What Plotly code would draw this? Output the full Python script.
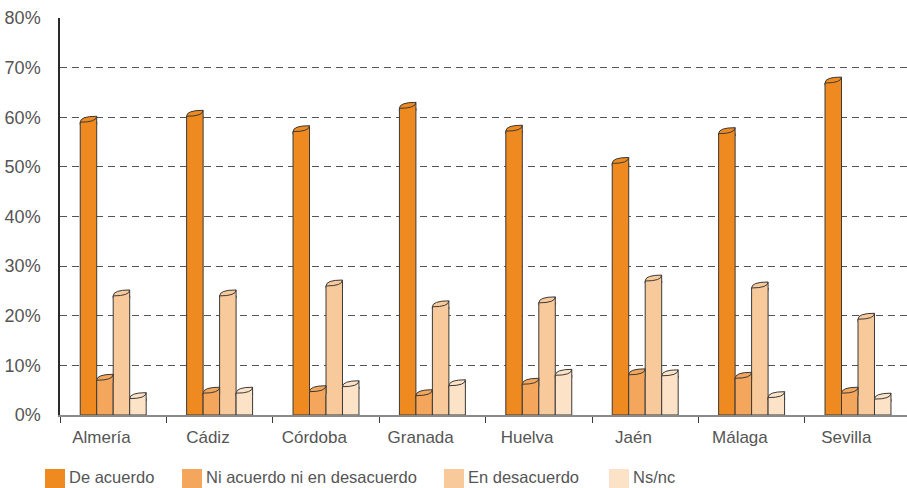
import plotly.graph_objects as go

provincias = ["Almería", "Cádiz", "Córdoba", "Granada", "Huelva", "Jaén", "Málaga", "Sevilla"]
de_acuerdo = [59.6, 60.8, 57.7, 62.4, 57.8, 51.3, 57.3, 67.5]
ni_acuerdo = [7.6, 5.0, 5.3, 4.5, 6.8, 8.7, 8.0, 5.0]
en_desacuerdo = [24.6, 24.6, 26.6, 22.4, 23.2, 27.6, 26.2, 19.9]
ns_nc = [3.9, 5.0, 6.3, 6.5, 8.6, 8.5, 4.1, 3.8]

series_names = ["De acuerdo", "Ni acuerdo ni en desacuerdo", "En desacuerdo", "Ns/nc"]
series_values = [de_acuerdo, ni_acuerdo, en_desacuerdo, ns_nc]
colors = ["#EE8A1F", "#F3A65C", "#F8C99A", "#FCE2C6"]
y_ticks = [0, 10, 20, 30, 40, 50, 60, 70, 80]

# layout geometry (pixels)
W_PX, H_PX = 907, 488
ML, MT, MB = 60, 18, 73
PW = W_PX - ML
PH = H_PX - MT - MB

def px_x(px):
    return (px - ML) / PW

def px_y(py):
    return (H_PX - MB - py) / PH

GROUP = 0.62
W = GROUP / 4
CAP = 0.6
EPS = 0.5
xs = list(range(len(provincias)))
line_col = "#3a3a3a"

fig = go.Figure()
shapes = []
annotations = []
for k, (name, vals, col) in enumerate(zip(series_names, series_values, colors)):
    off = -GROUP / 2 + W * k
    fig.add_trace(go.Bar(
        x=xs, y=[v - CAP for v in vals], name=name, width=W, offset=off,
        marker=dict(color=col, line=dict(color=line_col, width=1)),
        hovertext=[f"{v}%" for v in vals], hoverinfo="name+text",
        showlegend=False,
    ))
    for i, v in zip(xs, vals):
        xl = i + off
        xr = xl + W
        yb = v - CAP
        yt = v + CAP
        fill_path = (f"M {xl},{yb-EPS} L {xl},{yb} Q {xl},{yt} {xr},{yt} "
                     f"L {xr},{yb-EPS} Z")
        shapes.append(dict(type="path", xref="x", yref="y", path=fill_path,
                           fillcolor=col, line=dict(width=0), layer="above"))
        line_path = (f"M {xl},{yb-EPS} L {xl},{yb} Q {xl},{yt} {xr},{yt} "
                     f"L {xr},{yb-EPS} M {xl},{yb} Q {xr},{yb} {xr},{yt}")
        shapes.append(dict(type="path", xref="x", yref="y", path=line_path,
                           fillcolor="rgba(0,0,0,0)",
                           line=dict(color=line_col, width=1), layer="above"))

font_family = "Liberation Sans, Arial, sans-serif"
text_color = "#555555"

# custom legend (larger swatches, as in the original)
legend_swatch_x = [45, 182, 444, 609]
for sx, name, col in zip(legend_swatch_x, series_names, colors):
    shapes.append(dict(type="rect", xref="paper", yref="paper",
                       x0=px_x(sx), x1=px_x(sx + 20), y0=px_y(488), y1=px_y(469),
                       fillcolor=col, line=dict(width=0)))
    annotations.append(dict(text=name, xref="paper", yref="paper",
                            x=px_x(sx + 23), y=px_y(477), xanchor="left", yanchor="middle",
                            showarrow=False, borderpad=0,
                            font=dict(size=16.5, color=text_color)))

fig.update_layout(
    width=W_PX, height=H_PX,
    margin=dict(l=ML, r=0, t=MT, b=MB),
    paper_bgcolor="white", plot_bgcolor="white",
    barmode="overlay",
    font=dict(family=font_family, size=17, color=text_color),
    shapes=shapes,
    annotations=annotations,
    showlegend=False,
    xaxis=dict(
        range=[-0.5, -0.5 + PW / 106.4],
        tickmode="array",
        tickvals=[i - 0.11 for i in xs],
        ticktext=provincias,
        ticks="", ticklabelstandoff=6,
        showgrid=False,
        zeroline=False,
        showline=True, linecolor="#8a8a8a", linewidth=2,
        minor=dict(ticks="outside", ticklen=6, tickcolor=line_col,
                   tick0=-0.5, dtick=1, showgrid=False),
        tickfont=dict(size=17, color=text_color),
        automargin=False,
        fixedrange=True,
    ),
    yaxis=dict(
        range=[0, 80],
        tickmode="array",
        tickvals=y_ticks,
        ticktext=[f"{t}%" for t in y_ticks],
        showgrid=True, gridcolor="#555555", gridwidth=1, griddash="7px,5px",
        zeroline=False,
        showline=True, linecolor="#2a2a2a", linewidth=1.5,
        ticks="", ticklabelstandoff=14,
        tickfont=dict(size=18, color=text_color),
        automargin=False,
        fixedrange=True,
    ),
)

fig.write_html(
    "out.html",
    config={"displayModeBar": False},
    post_script="document.body.style.margin='0';document.body.style.overflow='hidden';",
)
